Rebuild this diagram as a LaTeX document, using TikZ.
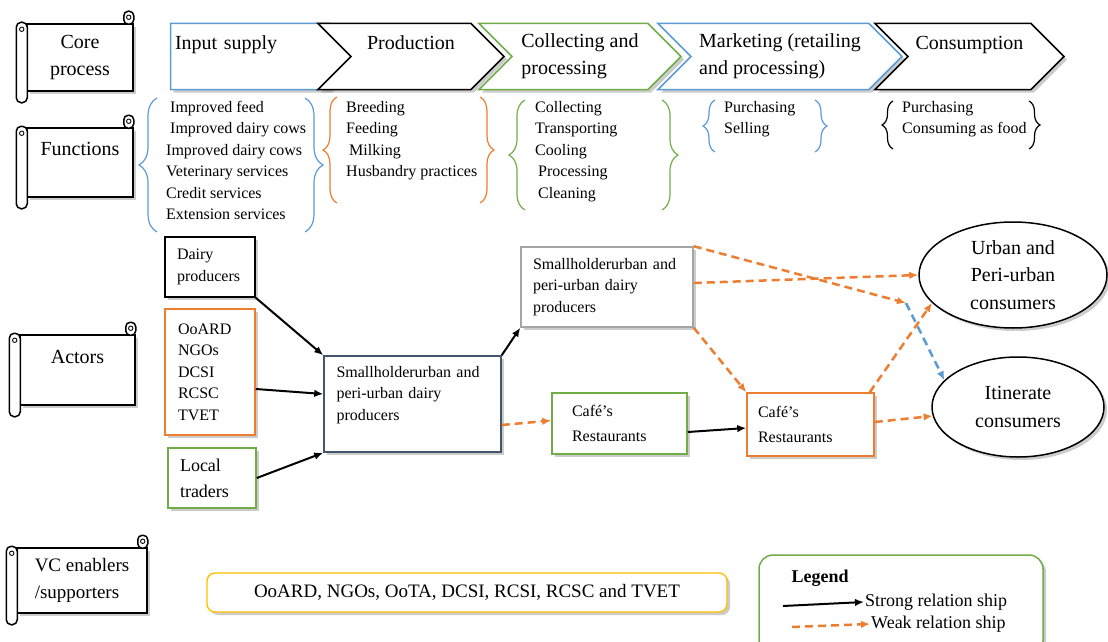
\documentclass[tikz,border=0pt]{standalone}
\usepackage{fontspec}
\setmainfont{Liberation Serif}
\usepackage{xcolor}
\usepackage{tikz}
\usetikzlibrary{positioning, arrows.meta, calc, shapes.geometric, shapes.symbols, shadows, decorations.pathreplacing}

\definecolor{cblue}{RGB}{91,155,213}
\definecolor{corange}{RGB}{237,125,49}
\definecolor{cgreen}{RGB}{112,173,71}
\definecolor{cgold}{RGB}{255,192,0}
\definecolor{cslate}{RGB}{68,84,106}
\definecolor{cgray}{RGB}{165,165,165}

\begin{document}
\begin{tikzpicture}[
      x=1pt, y=-1pt,
      shdw/.style={drop shadow={shadow xshift=3pt, shadow yshift=-3pt, opacity=0.4}},
      scroll/.style={draw, fill=white, line width=1.5pt, align=center, inner sep=0pt, font=\fontsize{20}{27}\selectfont, shdw},
      roll/.style={draw, fill=white, line width=1.5pt},
      chev/.style={signal, signal to=east, signal from=west, draw, fill=white, line width=1.5pt, minimum height=66pt, inner sep=0pt, align=left, font=\fontsize{20}{27}\selectfont, shdw},
      flist/.style={align=left, anchor=north west, inner sep=0pt, font=\fontsize{16}{21.5}\selectfont},
      box/.style={draw, fill=white, line width=1.5pt, align=left, inner sep=0pt, font=\fontsize{16}{21.5}\selectfont, shdw},
      cons/.style={ellipse, draw, fill=white, line width=1.5pt, align=center, inner sep=0pt, font=\fontsize{20}{27.5}\selectfont, shdw},
      curly/.style={decorate, decoration={brace, amplitude=#1}, line width=1.2pt},
      curly/.default=12pt,
      strong/.style={-{Latex[length=9pt, width=7.5pt]}, line width=2pt},
      weak/.style={-{Latex[length=9pt, width=7.5pt]}, line width=2.5pt, dash pattern=on 8pt off 5pt, corange},
      weakb/.style={weak, cblue}
    ]
    \useasboundingbox (0,0) rectangle (1108,642);
    \clip (0,0) rectangle (1108,642);
    \fill[white] (0,0) rectangle (1108,642);

    % Scrolls on the left
    \node[scroll, minimum width=106pt, minimum height=67pt] (core) at (80,57.5) {Core\\process};
    \node[scroll, minimum width=106pt, minimum height=69pt] (func) at (80,162.5) {Functions\\\mbox{}};
    \node[scroll, minimum width=115pt, minimum height=70pt] (act) at (77.5,370) {Actors\\\mbox{}};
    \node[scroll, minimum width=130pt, minimum height=65pt, align=left, font=\fontsize{19}{27}\selectfont] (vc) at (82,580.5) {VC enablers\\/supporters};
    \foreach \s in {core, func, act, vc} {
      \draw[roll, rounded corners=4.5pt] ($(\s.north east)+(-10,1)$) rectangle ($(\s.north east)+(0,-12)$);
      \draw[line width=0.9pt] ($(\s.north east)+(-5,-6)$) circle (2.2pt);
      \draw[roll, rounded corners=5pt] ($(\s.north west)+(-10,-1)$) rectangle ($(\s.south west)+(1,11)$);
      \draw[line width=0.9pt] ($(\s.north west)+(-4.5,6)$) circle (2.2pt);
    }

    % Core process
    \node[chev, draw=cblue, signal from=nowhere, minimum width=192pt, text width=150pt] (inp) at (250,56.5) {Input supply\\\mbox{}};
    \node[chev, minimum width=186pt] (prod) at (411,56.5) {Production\\\mbox{}};
    \node[chev, draw=cgreen, minimum width=202pt] (coll) at (580,56.5) {Collecting and\\processing};
    \node[chev, draw=cblue, minimum width=244pt] (mkt) at (780,56.5) {Marketing (retailing\\and processing)};
    \node[chev, minimum width=189pt] (cons) at (969.5,56.5) {Consumption\\\mbox{}};

    % Functions
    \node[flist] (fin) at (166,101) {\hspace*{4pt}Improved feed\\\hspace*{4pt}Improved dairy cows\\Improved dairy cows\\Veterinary services\\Credit services\\Extension services};
    \node[flist] (fprod) at (346,101) {Breeding\\Feeding\\\hspace*{3pt}Milking\\Husbandry practices};
    \node[flist] (fcoll) at (535,101) {Collecting\\Transporting\\Cooling\\\hspace*{3pt}Processing\\\hspace*{3pt}Cleaning};
    \node[flist] (fmkt) at (724,101) {Purchasing\\Selling};
    \node[flist] (fcons) at (902,101) {Purchasing\\Consuming as food};
    \foreach \l/\r/\t/\b/\c/\a in {157/305/98/232/cblue/18pt, 337/480/97/203/corange/14pt, 525/662/100/210/cgreen/16pt, 715/815/100/152/cblue/12pt, 893/1029/101/149/black/11pt} {
      \draw[curly=\a, \c] (\l,\b) -- (\l,\t);
      \draw[curly=\a, \c] (\r,\t) -- (\r,\b);
    }

    % Actors
    \node[box, minimum width=90pt, minimum height=60pt, text width=66pt] (dairy) at (210,267) {Dairy\\producers};
    \node[box, draw=corange, minimum width=90pt, minimum height=126pt, text width=64pt] (gov) at (210,372) {OoARD\\NGOs\\DCSI\\RCSC\\TVET};
    \node[box, draw=cgreen, minimum width=88pt, minimum height=60pt, text width=64pt, font=\fontsize{18}{26}\selectfont] (trad) at (212,478) {Local\\traders};
    \node[box, draw=cslate, minimum width=177pt, minimum height=96pt, text width=152pt] (sh1) at (412.5,404) {Smallholderurban and\\peri-urban dairy\\producers\\\mbox{}};
    \node[box, draw=cgray, minimum width=172pt, minimum height=80pt, text width=148pt] (sh2) at (607,287) {Smallholderurban and\\peri-urban dairy\\producers};
    \node[box, draw=cgreen, minimum width=135pt, minimum height=61pt, text width=95pt, font=\fontsize{16}{25}\selectfont] (cafe1) at (619.5,423.5) {Café’s\\Restaurants};
    \node[box, draw=corange, minimum width=127pt, minimum height=63pt, text width=105pt, font=\fontsize{16}{25}\selectfont] (cafe2) at (810.5,424.5) {Café’s\\Restaurants};
    \node[cons, minimum width=188pt, minimum height=106pt] (urb) at (1013,275) {Urban and\\Peri-urban\\consumers};
    \node[cons, minimum width=172pt, minimum height=100pt] (itin) at (1018,407) {Itinerate\\consumers};
    \coordinate (mid) at (906,303);

    % Edges
    \draw[strong] (dairy.south east) -- (sh1.north west);
    \draw[strong] ([yshift=-17pt]gov.east) -- ([yshift=10pt]sh1.west);
    \draw[strong] (trad.east) -- (sh1.south west);
    \draw[strong] (sh1.north east) -- (sh2.south west);
    \draw[weak] ([yshift=-21pt]sh1.east) -- ([yshift=3pt]cafe1.west);
    \draw[strong] ([yshift=-8.5pt]cafe1.east) -- ([yshift=-3.5pt]cafe2.west);
    \draw[weak] (sh2.north east) -- (mid);
    \draw[weakb] (mid) -- (itin.160);
    \draw[weak] ([yshift=4pt]sh2.east) -- (urb.west);
    \draw[weak] (sh2.south east) -- (cafe2.north west);
    \draw[weak] ([xshift=-5pt]cafe2.north east) -- (urb.199);
    \draw[weak] ([yshift=2.5pt]cafe2.east) -- (itin.186);

    % Enablers and legend
    \node[draw=cgold, line width=1.4pt, rounded corners=8pt, fill=white, minimum width=520pt, minimum height=39pt, font=\fontsize{19}{24}\selectfont, shdw] (enab) at (467,592.5) {OoARD, NGOs, OoTA, DCSI, RCSI, RCSC and TVET};
    \node[draw=cgreen, line width=1.5pt, rounded corners=14pt, fill=white, minimum width=284pt, minimum height=100pt, shdw] (leg) at (901,605) {};
    \node[anchor=west, font=\bfseries\fontsize{18}{20}\selectfont] (legt) at (788,578) {Legend};
    \node[anchor=west, inner sep=1pt, font=\fontsize{18}{20}\selectfont] (strt) at (864,602) {Strong relation ship};
    \node[anchor=west, inner sep=1pt, font=\fontsize{18}{20}\selectfont] (weakt) at (870,624) {Weak relation ship};
    \coordinate (s0) at (783,606);
    \coordinate (w0) at (792,627);
    \draw[strong] (s0) -- (strt.west);
    \draw[weak] (w0) -- (weakt.west);
  \end{tikzpicture}
\end{document}
